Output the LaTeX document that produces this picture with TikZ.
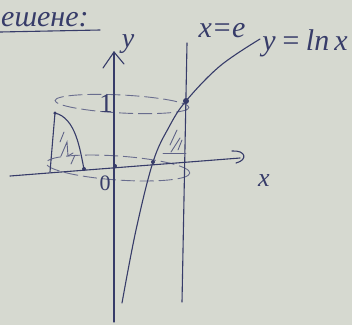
\documentclass[tikz,border=0pt]{standalone}
\usepackage{fontspec}
\setmainfont{Liberation Serif}
\begin{document}
\begin{tikzpicture}[x=1pt,y=-1pt,
  ink/.style={draw=inkc,line width=1.1pt,line cap=round,line join=round},
  thin ink/.style={draw=inkc!80,line width=0.9pt,line cap=round},
  dashink/.style={draw=inkc!75,line width=0.9pt,dash pattern=on 14pt off 5pt},
  dotpt/.style={circle,fill=inkc,inner sep=0pt,minimum size=4pt},
  lbl/.style={text=inkc,inner sep=0pt}]
\definecolor{inkc}{RGB}{55,60,105}
\definecolor{paper}{RGB}{214,217,208}
\fill[paper] (0,0) rectangle (352,325);
\useasboundingbox (0,0) rectangle (352,325);
% title
\node[lbl,font=\itshape\fontsize{30}{32}\selectfont,anchor=base west] (title) at (1,26) {ешене:};
\draw[ink] (0,32) -- (100,30);
% coordinates
\coordinate (O) at (115,166);
\coordinate (A) at (186,101);
\coordinate (L) at (55,113);
\coordinate (Lb) at (84,169);
\coordinate (X0) at (153,162);
\coordinate (xl) at (10,176);
\coordinate (xr) at (240,158);
\coordinate (yb) at (114,322);
\coordinate (yt) at (114,52);
\coordinate (et) at (187,43);
\coordinate (eb) at (182,302);
% ellipses
\draw[dashink,rotate around={-3:(122,104)}] (122,104) ellipse [x radius=67,y radius=9];
\draw[dashink,rotate around={-4:(118,168)}] (118,168) ellipse [x radius=72,y radius=12];
% axes
\draw[ink] (xl) -- (xr);
\draw[ink] (232,151) .. controls (246,150) and (248,160) .. (236,163);
\draw[ink] (yb) -- (yt);
\draw[ink] (103,68) -- (yt) -- (124,64);
\node[lbl,font=\itshape\fontsize{28}{30}\selectfont,anchor=base] (ylab) at (128,47) {y};
\node[lbl,font=\itshape\fontsize{26}{28}\selectfont,anchor=base] (xlab) at (264,186) {x};
\node[lbl,font=\fontsize{22}{24}\selectfont,anchor=base] (zero) at (105,190) {0};
\node[lbl,font=\fontsize{27}{29}\selectfont,anchor=base] (one) at (106,112) {1};
% x = e
\draw[ink] (et) -- (eb);
\node[lbl,font=\itshape\fontsize{30}{32}\selectfont,anchor=base] (elab) at (222,37) {x=e};
% curve y = ln x
\draw[ink] plot[smooth,tension=0.6] coordinates {(122,303) (136,230) (153,162) (169,127) (A) (220,66) (260,39)};
\node[lbl,font=\itshape\fontsize{30}{32}\selectfont,anchor=base] (lnlab) at (305,50) {y\,=\,ln\,x};
% left rotated region
\draw[ink] (L) .. controls (76,118) and (80,150) .. (Lb);
\draw[ink] (L) -- (50,172);
\draw[thin ink] (60,142) -- (64,132);
\draw[thin ink] (61,156) -- (67,142) -- (68,156) -- (73,153);
\draw[thin ink] (71,164) -- (75,155);
% right hatched region
\draw[thin ink] (163,153) -- (186,153);
\draw[thin ink] (170,145) -- (177,130);
\draw[thin ink] (171,152) -- (180,138);
\draw[thin ink] (178,150) -- (182,140);
% dots
\node[dotpt] (pO) at (O) {};
\node[dotpt] (pLb) at (Lb) {};
\node[dotpt] (pX0) at (X0) {};
\node[dotpt,minimum size=3.5pt] (pL) at (L) {};
\node[dotpt,minimum size=6pt] (pA) at (A) {};
\end{tikzpicture}
\end{document}
